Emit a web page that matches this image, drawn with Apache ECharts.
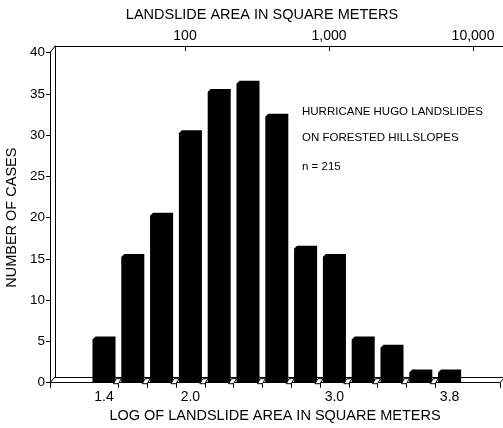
<!DOCTYPE html>
<html><head><meta charset="utf-8">
<script src="https://cdn.jsdelivr.net/npm/echarts@6/dist/echarts.min.js"></script>
<style>html,body{margin:0;padding:0;background:#fff}#c{width:503px;height:428px}</style>
</head><body><div id="c"></div>
<script>
// ---- data ----
const logBins = [1.4, 1.6, 1.8, 2.0, 2.2, 2.4, 2.6, 2.8, 3.0, 3.2, 3.4, 3.6, 3.8];
const cases = [5, 15, 20, 30, 35, 36, 32, 16, 15, 5, 4, 1, 1];
const bottomTickLabels = [1.4, 2.0, 3.0, 3.8];
const topTickAreas = [100, 1000, 10000];
const topTickLabels = ['100', '1,000', '10,000'];
const noteLines = ['HURRICANE HUGO LANDSLIDES', 'ON FORESTED HILLSLOPES', 'n = 215'];
const topTitle = 'LANDSLIDE AREA IN SQUARE METERS';
const bottomTitle = 'LOG OF LANDSLIDE AREA IN SQUARE METERS';
const yTitle = 'NUMBER OF CASES';

// ---- layout / style ----
const FONT = '"Liberation Sans", Arial, Helvetica, sans-serif';
const FRONT = {left: 50, right: 3, top: 52.7, bottom: 45.3};
const BACK = {left: 55, right: 0, top: 46, bottom: 51};
const X_MIN = 1.025, X_MAX = 4.15;      // front (bottom) log axis extent
const TOP_MIN = 1.0972, TOP_MAX = 4.2083; // top log axis extent
const BAR_W = 0.16;  // bar width in log units
const DEPTH = 5;     // 3-D top face depth, px

const mids = logBins.slice(1).map((v, i) => +((v + logBins[i]) / 2).toFixed(2));
const bottomTicks = [X_MIN].concat(mids, [X_MAX]);
const topTickLogs = topTickAreas.map(a => Math.log10(a));

const chart = echarts.init(document.getElementById('c'), null, {renderer: 'canvas'});
const H = 428, W = 503;
const yFront0 = H - FRONT.bottom, yBack0 = H - BACK.bottom;

chart.setOption({
  backgroundColor: '#fff',
  animation: false,
  textStyle: {fontFamily: FONT, color: '#000'},
  grid: [
    {left: FRONT.left, right: FRONT.right, top: FRONT.top, bottom: FRONT.bottom, containLabel: false, outerBoundsMode: 'none'},
    {left: BACK.left, right: BACK.right, top: BACK.top, bottom: BACK.bottom, containLabel: false, outerBoundsMode: 'none'}
  ],
  xAxis: [
    {
      type: 'value', gridIndex: 0, position: 'bottom', min: X_MIN, max: X_MAX,
      axisLine: {show: true, onZero: false, lineStyle: {color: '#000', width: 1}},
      axisTick: {show: true, length: 5, customValues: bottomTicks, lineStyle: {color: '#000'}},
      axisLabel: {show: true, customValues: bottomTickLabels, margin: 7, fontSize: 14,
        fontFamily: FONT, color: '#000', formatter: v => v.toFixed(1)},
      splitLine: {show: false},
      name: bottomTitle, nameLocation: 'middle', nameGap: 24,
      nameTextStyle: {fontSize: 14.5, fontFamily: FONT, color: '#000'}
    },
    {
      type: 'value', gridIndex: 1, position: 'bottom', min: 0, max: 1,
      axisLine: {show: true, onZero: false, lineStyle: {color: '#000', width: 1}},
      axisTick: {show: false}, axisLabel: {show: false}, splitLine: {show: false}
    },
    {
      type: 'value', gridIndex: 1, position: 'top', min: TOP_MIN, max: TOP_MAX,
      axisLine: {show: true, onZero: false, lineStyle: {color: '#000', width: 1}},
      axisTick: {show: true, inside: true, length: 5, customValues: topTickLogs, lineStyle: {color: '#000'}},
      axisLabel: {show: true, customValues: topTickLogs, margin: 3, fontSize: 14, fontFamily: FONT, color: '#000',
        formatter: v => topTickLabels[topTickLogs.findIndex(t => Math.abs(t - v) < 1e-6)]},
      splitLine: {show: false}
    }
  ],
  yAxis: [
    {
      type: 'value', gridIndex: 0, min: 0, max: 40, interval: 5,
      axisLine: {show: true, onZero: false, lineStyle: {color: '#000', width: 1}},
      axisTick: {show: true, length: 4, lineStyle: {color: '#000'}},
      axisLabel: {margin: 5, fontSize: 13.5, fontFamily: FONT, color: '#000'},
      splitLine: {show: false},
      name: yTitle, nameLocation: 'middle', nameGap: 31,
      nameTextStyle: {fontSize: 14.5, fontFamily: FONT, color: '#000'}
    },
    {
      type: 'value', gridIndex: 1, min: 0, max: 40, interval: 5,
      axisLine: {show: true, onZero: false, lineStyle: {color: '#000', width: 1}},
      axisTick: {show: false}, axisLabel: {show: false}, splitLine: {show: false}
    }
  ],
  graphic: [
    {type: 'line', z: 1, shape: {x1: FRONT.left, y1: FRONT.top, x2: BACK.left, y2: BACK.top}, style: {stroke: '#000', lineWidth: 1}},
    {type: 'line', z: 1, shape: {x1: FRONT.left, y1: yFront0, x2: BACK.left, y2: yBack0}, style: {stroke: '#000', lineWidth: 1}},
    {type: 'line', z: 1, shape: {x1: W - FRONT.right, y1: yFront0, x2: W - FRONT.right + 5, y2: yBack0}, style: {stroke: '#000', lineWidth: 1}},
    {type: 'text', x: 262, y: 15, style: {text: topTitle, font: '14.5px ' + FONT, fill: '#000', align: 'center', verticalAlign: 'middle'}},
    {type: 'text', x: 302, y: 112, style: {text: noteLines[0], font: '11.5px ' + FONT, fill: '#000', verticalAlign: 'middle'}},
    {type: 'text', x: 302, y: 138, style: {text: noteLines[1], font: '11.5px ' + FONT, fill: '#000', verticalAlign: 'middle'}},
    {type: 'text', x: 302, y: 167, style: {text: noteLines[2], font: '11.5px ' + FONT, fill: '#000', verticalAlign: 'middle'}}
  ],
  series: [
    {
      type: 'custom', xAxisIndex: 0, yAxisIndex: 0, clip: false, z: 10,
      data: logBins.map((v, i) => [v, cases[i]]),
      encode: {x: 0, y: 1},
      renderItem: function (params, api) {
        const v = api.value(0), c = api.value(1);
        const b = api.coord([v, 0]);
        const t = api.coord([v, c]);
        const w = api.size([BAR_W, 0])[0];
        const x0 = b[0] - w / 2, x1 = b[0] + w / 2, yb = b[1], yt = t[1] - DEPTH;
        return {
          type: 'polygon',
          shape: {points: [[x0, yb], [x0, yt + 3], [x0 + 3, yt], [x1, yt], [x1, yb]]},
          style: {fill: '#000', stroke: null}
        };
      }
    },
    {
      type: 'custom', xAxisIndex: 0, yAxisIndex: 0, clip: false, silent: true, z: 11,
      data: mids.map(m => [m, 0]),
      encode: {x: 0, y: 1},
      renderItem: function (params, api) {
        const p = api.coord([api.value(0), api.value(1)]);
        return {
          type: 'polygon',
          shape: {points: [[p[0] - 5, p[1] + 1], [p[0] - 2, p[1] - 4], [p[0] + 3, p[1] - 4], [p[0], p[1] + 1]]},
          style: {fill: '#fff', stroke: '#000', lineWidth: 1}
        };
      }
    }
  ]
});
</script>
</body></html>
